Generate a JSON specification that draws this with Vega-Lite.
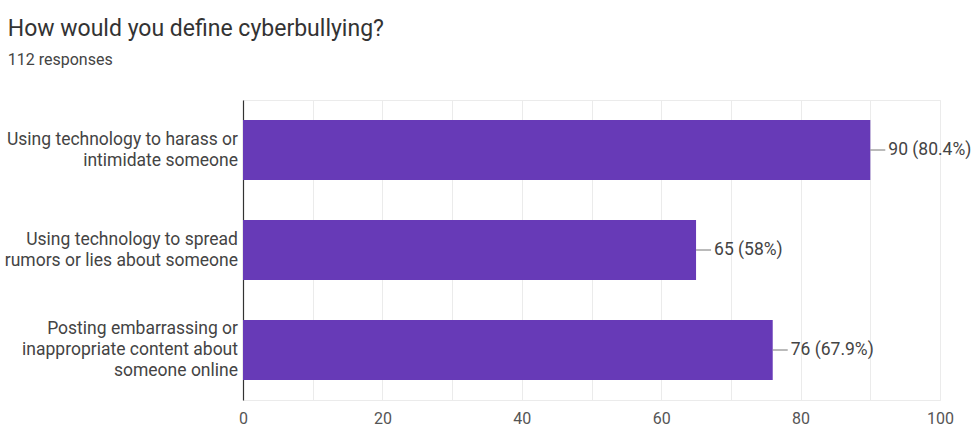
{
  "$schema": "https://vega.github.io/schema/vega-lite/v6.json",
  "autosize": {"type": "none"},
  "width": 697,
  "height": 300,
  "padding": {"left": 243, "top": 100, "right": 37, "bottom": 26},
  "background": "white",
  "title": {
    "text": "How would you define cyberbullying?",
    "subtitle": "112 responses",
    "anchor": "start",
    "frame": "bounds",
    "offset": 32,
    "dx": 3,
    "font": "Roboto",
    "fontSize": 23,
    "fontWeight": "normal",
    "color": "#333333",
    "subtitleFont": "Roboto",
    "subtitleFontSize": 16,
    "subtitleColor": "#444444",
    "subtitlePadding": 11
  },
  "data": {
    "values": [
      {"answer": "Using technology to harass or\nintimidate someone", "count": 90, "label": "90 (80.4%)"},
      {"answer": "Using technology to spread\nrumors or lies about someone", "count": 65, "label": "65 (58%)"},
      {"answer": "Posting embarrassing or\ninappropriate content about\nsomeone online", "count": 76, "label": "76 (67.9%)"}
    ]
  },
  "encoding": {
    "y": {
      "field": "answer",
      "type": "nominal",
      "sort": null,
      "scale": {"paddingInner": 0.4, "paddingOuter": 0.2},
      "axis": {
        "title": null,
        "labels": false,
        "ticks": false,
        "domainColor": "#333333",
        "domainWidth": 1.2
      }
    },
    "x": {
      "field": "count",
      "type": "quantitative",
      "scale": {"domain": [0, 100], "nice": false},
      "axis": {
        "title": null,
        "values": [0, 10, 20, 30, 40, 50, 60, 70, 80, 90, 100],
        "labelExpr": "datum.value % 20 == 0 ? datum.label : ''",
        "labelFlush": false,
        "labelOverlap": false,
        "labelFont": "Roboto",
        "labelFontSize": 16,
        "labelColor": "#555555",
        "labelPadding": 10,
        "ticks": false,
        "domain": false,
        "grid": true,
        "gridColor": "#ebebeb",
        "gridWidth": 1
      }
    }
  },
  "layer": [
    {"mark": {"type": "bar", "color": "#673ab7"}},
    {
      "mark": {"type": "point", "shape": "M0,0H2", "size": 225, "filled": false, "stroke": "#777777", "strokeWidth": 1, "opacity": 1}
    },
    {
      "mark": {"type": "text", "align": "left", "baseline": "middle", "dx": 18, "font": "Roboto", "fontSize": 17.5, "color": "#444444"},
      "encoding": {"text": {"field": "label"}}
    },
    {
      "mark": {
        "type": "text",
        "align": "right",
        "baseline": "middle",
        "dx": -5,
        "dy": {"expr": "-(length(split(datum.answer, '\\n')) - 1) * 10.5"},
        "lineBreak": "\n",
        "lineHeight": 21,
        "font": "Roboto",
        "fontSize": 17.5,
        "color": "#444444"
      },
      "encoding": {
        "x": {"datum": 0},
        "text": {"field": "answer"}
      }
    }
  ],
  "config": {
    "view": {"stroke": "#ebebeb"}
  }
}
